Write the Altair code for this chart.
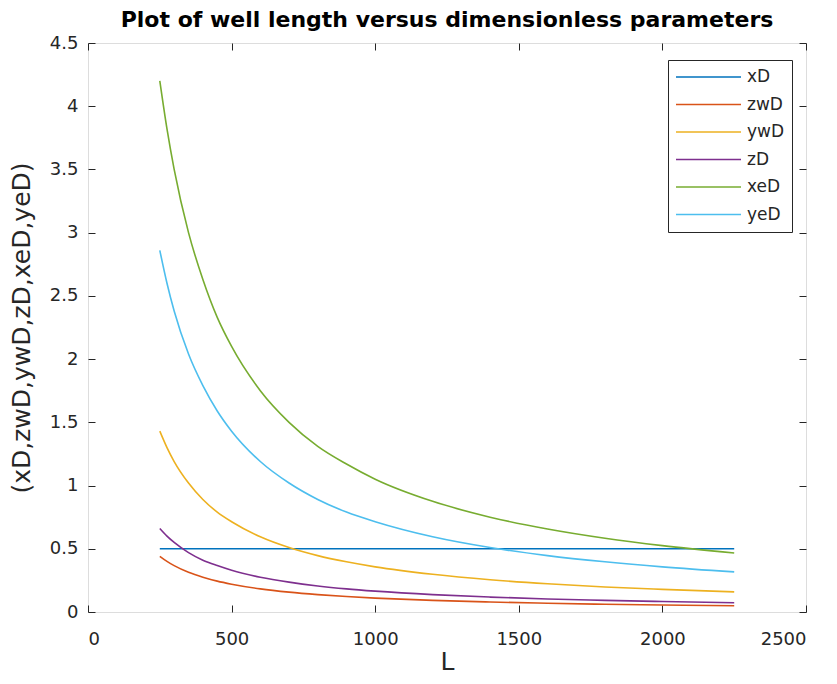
import altair as alt
import pandas as pd

# Well length L (x values)
L_values = [250, 275, 300, 350, 400, 450, 500, 600, 700, 800, 900, 1000,
            1200, 1400, 1600, 1800, 2000, 2250]

series_names = ["xD", "zwD", "ywD", "zD", "xeD", "yeD"]
series_colors = ["#0072BD", "#D95319", "#EDB120", "#7E2F8E", "#77AC30", "#4DBEEE"]

xD = [0.5] * 18
zwD = [0.44, 0.40, 0.367, 0.314, 0.275, 0.244, 0.22, 0.183, 0.157, 0.1375, 0.122, 0.11,
       0.092, 0.079, 0.069, 0.061, 0.055, 0.049]
ywD = [1.43, 1.30, 1.19, 1.02, 0.89, 0.79, 0.714, 0.595, 0.51, 0.446, 0.397, 0.357,
       0.298, 0.255, 0.223, 0.198, 0.179, 0.159]
zD = [0.66, 0.60, 0.55, 0.47, 0.41, 0.367, 0.33, 0.275, 0.236, 0.206, 0.183, 0.165,
      0.1375, 0.118, 0.103, 0.092, 0.0825, 0.073]
xeD = [4.20, 3.82, 3.50, 3.00, 2.63, 2.33, 2.10, 1.75, 1.50, 1.31, 1.17, 1.05,
       0.875, 0.75, 0.656, 0.583, 0.525, 0.467]
yeD = [2.86, 2.60, 2.38, 2.04, 1.79, 1.59, 1.43, 1.19, 1.02, 0.89, 0.79, 0.714,
       0.595, 0.51, 0.446, 0.397, 0.357, 0.317]

x_ticks = [0, 500, 1000, 1500, 2000, 2500]
y_ticks = [0, 0.5, 1, 1.5, 2, 2.5, 3, 3.5, 4, 4.5]

rows = []
for name, vals in zip(series_names, [xD, zwD, ywD, zD, xeD, yeD]):
    for l, v in zip(L_values, vals):
        rows.append({"L": l, "value": v, "series": name})
df = pd.DataFrame(rows)

FONT = "DejaVu Sans"
INK = "#262626"

xscale = alt.Scale(domain=[0, 2500], nice=False, zero=False)
yscale = alt.Scale(domain=[0, 4.5], nice=False, zero=False)
color = alt.Color(
    "series:N",
    scale=alt.Scale(domain=series_names, range=series_colors),
    sort=series_names,
    title=None,
    legend=alt.Legend(
        orient="none", legendX=580, legendY=17,
        symbolType="stroke", symbolSize=4225, symbolStrokeWidth=1.5,
        clipHeight=20, rowPadding=7.5, labelFontSize=17, labelFont=FONT,
        labelColor=INK, labelOffset=5, strokeColor=INK, fillColor="white",
        padding=7,
    ),
)

lines = alt.Chart(df).mark_line(strokeWidth=1.6, interpolate="monotone").encode(
    x=alt.X("L:Q", scale=xscale, title="L",
            axis=alt.Axis(values=x_ticks, format="d", grid=False, domain=False,
                          orient="bottom", offset=-7, tickSize=7, tickColor=INK,
                          labelPadding=18, labelFontSize=18, labelFont=FONT,
                          labelColor=INK, titleFontSize=25, titleFont=FONT,
                          titleFontWeight="normal", titleColor=INK, titlePadding=1)),
    y=alt.Y("value:Q", scale=yscale, title="(xD,zwD,ywD,zD,xeD,yeD)",
            axis=alt.Axis(values=y_ticks, format="~g", grid=False, domain=False,
                          orient="left", offset=-7, tickSize=7, tickColor=INK,
                          labelPadding=10, labelFontSize=18, labelFont=FONT,
                          labelColor=INK, titleFontSize=25, titleFont=FONT,
                          titleFontWeight="normal", titleColor=INK, titlePadding=15)),
    color=color,
)

frame_axes = alt.Chart(df[df.series == "xD"]).mark_line(opacity=0).encode(
    x=alt.X("L:Q", scale=xscale,
            axis=alt.Axis(values=x_ticks, grid=False, domain=False, labels=False,
                          orient="top", offset=-7, tickSize=7, tickColor=INK, title=None)),
    y=alt.Y("value:Q", scale=yscale,
            axis=alt.Axis(values=y_ticks, grid=False, domain=False, labels=False,
                          orient="right", offset=-7, tickSize=7, tickColor=INK, title=None)),
)

chart = alt.layer(lines, frame_axes).resolve_axis(x="independent", y="independent").properties(
    width=718, height=569,
    title=alt.TitleParams("Plot of well length versus dimensionless parameters",
                          font=FONT, fontSize=22, fontWeight="bold", color="#000000",
                          anchor="middle", baseline="bottom", offset=0, dy=20),
    autosize=alt.AutoSizeParams(type="none"),
    padding={"left": 80, "top": 35, "right": 23, "bottom": 72},
).configure_view(stroke=INK, strokeWidth=1).configure(background="white")

chart.save("out.html", embed_options={"renderer": "svg", "actions": False})
